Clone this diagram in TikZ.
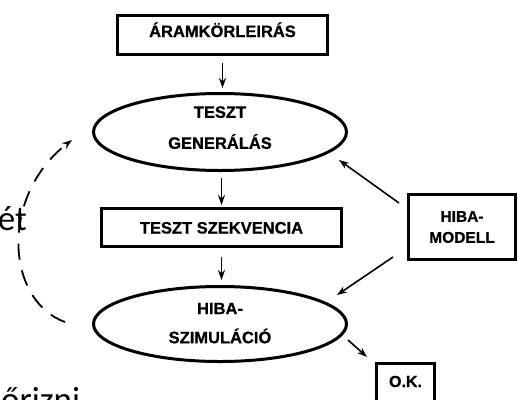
\documentclass[tikz,border=0pt]{standalone}
\usepackage{fontspec}
\setmainfont{Liberation Sans}[BoldFeatures={FakeBold=0.8}]
\newfontfamily\notefont{Carlito}
\usetikzlibrary{shapes.geometric,arrows.meta,calc}
\newcommand{\lowpad}[1]{\rule[-#1]{0pt}{#1}}
\begin{document}
\begin{tikzpicture}[x=1pt,y=-1pt,
  every node/.style={inner sep=0pt},
  txt/.style={font=\bfseries\fontsize{16.5}{31}\selectfont, align=center},
  procbox/.style={txt, draw, line width=3pt, rectangle},
  procell/.style={txt, draw, line width=3pt, ellipse},
  flow/.style={line width=1.6pt, -{Stealth[length=10pt,width=7pt]}},
  loop/.style={line width=1.8pt, dash pattern=on 16pt off 11pt, -{Stealth[length=10pt,width=7pt]}},
  note/.style={font=\notefont\fontsize{35}{40}\selectfont}
]
\useasboundingbox (0,0) rectangle (518,399);
\clip (0,0) rectangle (518,399);

% main flow
\node[procbox, minimum width=210pt, minimum height=39pt, text height=12pt, text depth=8pt] (aram) at (222.5,35) {ÁRAMKÖRLEIRÁS};
\node[procell, minimum width=253pt, minimum height=77pt] (tg) at (220,132) {TESZT\\GENERÁLÁS\lowpad{9pt}};
\node[procbox, minimum width=240pt, minimum height=38pt, text height=12pt, text depth=0pt] (sek) at (221.5,227.5) {TESZT SZEKVENCIA};
\node[procell, minimum width=253pt, minimum height=75pt,
      font=\bfseries\fontsize{16.5}{29}\selectfont] (sim) at (220,324) {HIBA-\\SZIMULÁCIÓ\lowpad{2pt}};

% side boxes
\node[procbox, minimum width=107pt, minimum height=65pt,
      font=\bfseries\fontsize{15.5}{21}\selectfont] (hm) at (462,227) {HIBA-\\MODELL};
\node[procbox, minimum width=58pt, minimum height=42pt, text height=12pt, text depth=7pt,
      font=\bfseries\fontsize{16}{20}\selectfont] (ok) at (405.5,384.5) {O.K.};

% vertical arrows
\draw[flow, shorten <=7pt, shorten >=4pt] (aram.south) -- (aram.south |- tg.north);
\draw[flow, shorten <=6pt, shorten >=2pt] (sek.north |- tg.south) -- (sek.north);
\draw[flow, shorten <=9pt, shorten >=5pt] (sek.south) -- (sek.south |- sim.north);

% fault model feeds both steps
\draw[flow] ($(hm.north west)+(-8,10)$) -- ($(tg.east)+(-9,28)$);
\draw[flow] ($(hm.south west)+(-14,-4)$) -- ($(sim.east)+(-11,-29)$);
\draw[flow] ($(sim.east)+(0,16)$) -- ($(ok.north west)+(-8,-5)$);

% feedback loop
\draw[loop] ($(sim.west)+(-27,-2)$) .. controls ($(sim.west)+(-87,-24)$) and ($(tg.west)+(-92,63)$) .. ($(tg.west)+(-20,8)$);

% surrounding text
\node[note, anchor=base east] (et) at (27,230) {ét};
\node[note, anchor=base west] (orizni) at (1,411) {őrizni};
\end{tikzpicture}
\end{document}
